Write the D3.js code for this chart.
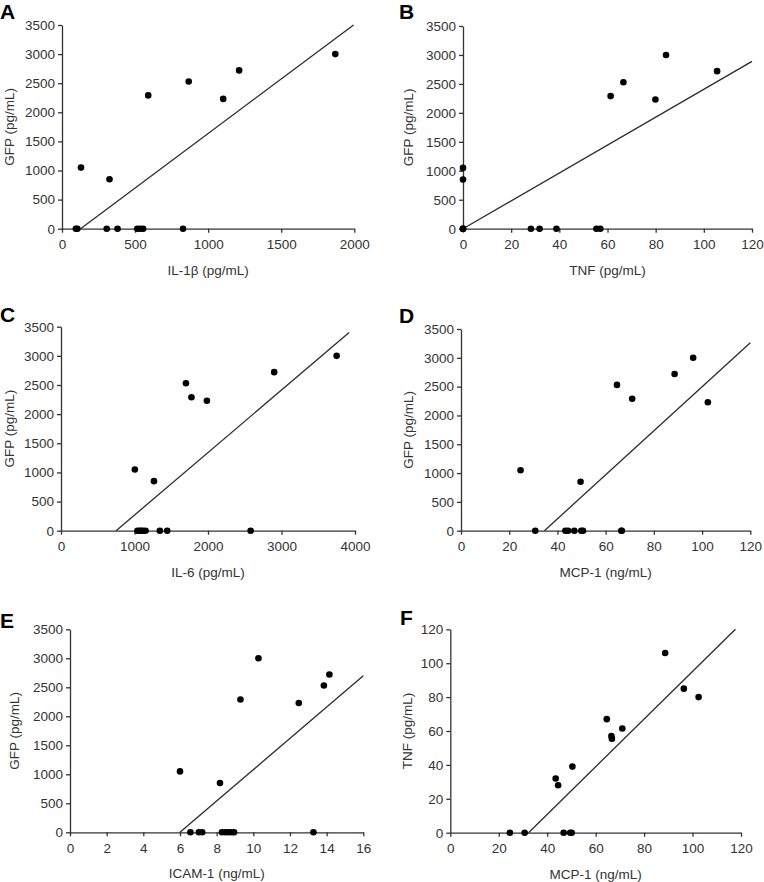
<!DOCTYPE html>
<html>
<head>
<meta charset="utf-8">
<script src="https://cdn.jsdelivr.net/npm/d3@7"></script>
<style>
  html, body { margin: 0; padding: 0; background: #fff; }
  svg { display: block; font-family: "Liberation Sans", Arial, Helvetica, sans-serif; }
  .tick text { fill: #333; font-size: 13.5px; }
  .axis path, .axis line { stroke: #333; stroke-width: 1.3px; }
  .title { fill: #333; font-size: 13.5px; }
  .letter { fill: #000; font-size: 21px; font-weight: bold; }
</style>
</head>
<body>
<svg id="chart" width="764" height="882"></svg>
<script>
// ---------- DATA ----------
// shared tick labels
const gfpTicks = [0, 500, 1000, 1500, 2000, 2500, 3000, 3500];
const tnfYTicks = [0, 20, 40, 60, 80, 100, 120];
const il1bTicks = [0, 500, 1000, 1500, 2000];
const tnfXTicks = [0, 20, 40, 60, 80, 100, 120];
const il6Ticks = [0, 1000, 2000, 3000, 4000];
const mcpTicks = [0, 20, 40, 60, 80, 100, 120];
const icamTicks = [0, 2, 4, 6, 8, 10, 12, 14, 16];

// Panel A: IL-1β vs GFP
const aIL1b = [130, 325, 590, 867, 1103, 1212, 1870, 95, 105, 306, 380, 515, 535, 555, 828];
const aGFP  = [1050, 850, 2290, 2530, 2230, 2720, 3000, 0, 0, 0, 0, 0, 0, 0, 0];
const aLine = [[127, 0], [1995, 3500]];

// Panel B: TNF vs GFP
const bTNF = [0, 0, 0, 0, 0, 28.2, 31.8, 38.8, 55.4, 57, 61.3, 66.6, 79.9, 84.3, 105.5];
const bGFP = [1050, 850, 0, 0, 0, 0, 0, 0, 0, 0, 2290, 2530, 2230, 3000, 2720];
const bLine = [[0, 0], [120, 2890]];

// Panel C: IL-6 vs GFP
const cIL6 = [1005, 1265, 1700, 1775, 1985, 2900, 3750, 1040, 1070, 1090, 1115, 1150, 1345, 1445, 2580];
const cGFP = [1050, 850, 2530, 2290, 2230, 2720, 3000, 0, 0, 0, 0, 0, 0, 0, 0];
const cLine = [[750, 0], [3920, 3400]];

// Panel D: MCP-1 vs GFP
const dMCP = [24.7, 49.6, 64.7, 71, 88.6, 96.3, 102.4, 30.8, 43.3, 44.4, 47, 49.9, 50.6, 66.5, 66.7];
const dGFP = [1050, 850, 2530, 2290, 2720, 3000, 2230, 0, 0, 0, 0, 0, 0, 0, 0];
const dLine = [[34.6, 0], [120, 3260]];

// Panel E: ICAM-1 vs GFP
const eICAM = [6.0, 8.18, 9.3, 10.28, 12.48, 13.85, 14.15, 6.57, 7.03, 7.21, 8.29, 8.48, 8.64, 8.81, 8.95, 13.28];
const eGFP  = [1050, 850, 2290, 3000, 2230, 2530, 2720, 0, 0, 0, 0, 0, 0, 0, 0, 0];
const eLine = [[6.0, 0], [16, 2700]];

// Panel F: MCP-1 vs TNF
const fMCP = [24.6, 30.7, 43.5, 44.5, 46.8, 49.5, 50.1, 50.4, 64.6, 66.5, 66.7, 71, 88.7, 96.4, 102.5];
const fTNF = [0, 0, 32, 28, 0, 0, 0, 39, 67, 57, 55.5, 61.5, 106, 85, 80];
const fLine = [[32.3, 0], [117.7, 120]];

// ---------- LAYOUT ----------
const svg = d3.select("#chart");

const panels = [
  { letter: "A", lx: 0, ly: 18.5, xr: [62, 354.3], yr: [228.7, 25], xd: [0, 2000], yd: [0, 3500],
    xt: il1bTicks, yt: gfpTicks, xs: aIL1b, ys: aGFP, line: aLine,
    xTitle: "IL-1β (pg/mL)", yTitle: "GFP (pg/mL)", ytx: 9 },
  { letter: "B", lx: 399, ly: 18.5, xr: [463, 752], yr: [228.7, 26], xd: [0, 120], yd: [0, 3500],
    xt: tnfXTicks, yt: gfpTicks, xs: bTNF, ys: bGFP, line: bLine,
    xTitle: "TNF (pg/mL)", yTitle: "GFP (pg/mL)", ytx: 408 },
  { letter: "C", lx: 0, ly: 321.5, xr: [61, 355], yr: [530.7, 326.7], xd: [0, 4000], yd: [0, 3500],
    xt: il6Ticks, yt: gfpTicks, xs: cIL6, ys: cGFP, line: cLine,
    xTitle: "IL-6 (pg/mL)", yTitle: "GFP (pg/mL)", ytx: 9 },
  { letter: "D", lx: 399, ly: 323, xr: [461, 750.3], yr: [530.7, 329], xd: [0, 120], yd: [0, 3500],
    xt: mcpTicks, yt: gfpTicks, xs: dMCP, ys: dGFP, line: dLine,
    xTitle: "MCP-1 (ng/mL)", yTitle: "GFP (pg/mL)", ytx: 408 },
  { letter: "E", lx: 0, ly: 628, xr: [70, 363.3], yr: [832.3, 629.3], xd: [0, 16], yd: [0, 3500],
    xt: icamTicks, yt: gfpTicks, xs: eICAM, ys: eGFP, line: eLine,
    xTitle: "ICAM-1 (ng/mL)", yTitle: "GFP (pg/mL)", ytx: 14 },
  { letter: "F", lx: 400, ly: 625, xr: [450.3, 741], yr: [832.7, 629.3], xd: [0, 120], yd: [0, 120],
    xt: mcpTicks, yt: tnfYTicks, xs: fMCP, ys: fTNF, line: fLine,
    xTitle: "MCP-1 (ng/mL)", yTitle: "TNF (pg/mL)", ytx: 407 }
];

panels.forEach(p => {
  const x = d3.scaleLinear().domain(p.xd).range(p.xr);
  const y = d3.scaleLinear().domain(p.yd).range(p.yr);
  const g = svg.append("g");

  // axes
  g.append("g").attr("class", "axis")
    .attr("transform", `translate(0,${p.yr[0]})`)
    .call(d3.axisBottom(x).tickValues(p.xt).tickSize(4).tickPadding(7).tickSizeOuter(0).tickFormat(d3.format("d")))
    .call(s => s.selectAll("text").attr("font-family", null).attr("font-size", null));

  g.append("g").attr("class", "axis")
    .attr("transform", `translate(${p.xr[0]},0)`)
    .call(d3.axisLeft(y).tickValues(p.yt).tickSize(4).tickPadding(3).tickSizeOuter(0).tickFormat(d3.format("d")))
    .call(s => s.selectAll("text").attr("font-family", null).attr("font-size", null));

  // trend line
  g.append("line")
    .attr("x1", x(p.line[0][0])).attr("y1", y(p.line[0][1]))
    .attr("x2", x(p.line[1][0])).attr("y2", y(p.line[1][1]))
    .attr("stroke", "#2a2a2a").attr("stroke-width", 1.3);

  // points
  g.selectAll("circle.pt").data(p.xs.map((v, i) => [v, p.ys[i]]))
    .enter().append("circle").attr("class", "pt")
    .attr("cx", d => x(d[0])).attr("cy", d => y(d[1]))
    .attr("r", 3.3).attr("fill", "#000");

  // titles
  g.append("text").attr("class", "title")
    .attr("x", (p.xr[0] + p.xr[1]) / 2).attr("y", p.yr[0] + 46)
    .attr("text-anchor", "middle").text(p.xTitle);

  const ymid = (p.yr[0] + p.yr[1]) / 2;
  g.append("text").attr("class", "title")
    .attr("transform", `translate(${p.ytx + 5},${ymid}) rotate(-90)`)
    .attr("text-anchor", "middle").text(p.yTitle);

  // panel letter
  g.append("text").attr("class", "letter")
    .attr("x", p.lx).attr("y", p.ly).text(p.letter);
});
</script>
</body>
</html>
